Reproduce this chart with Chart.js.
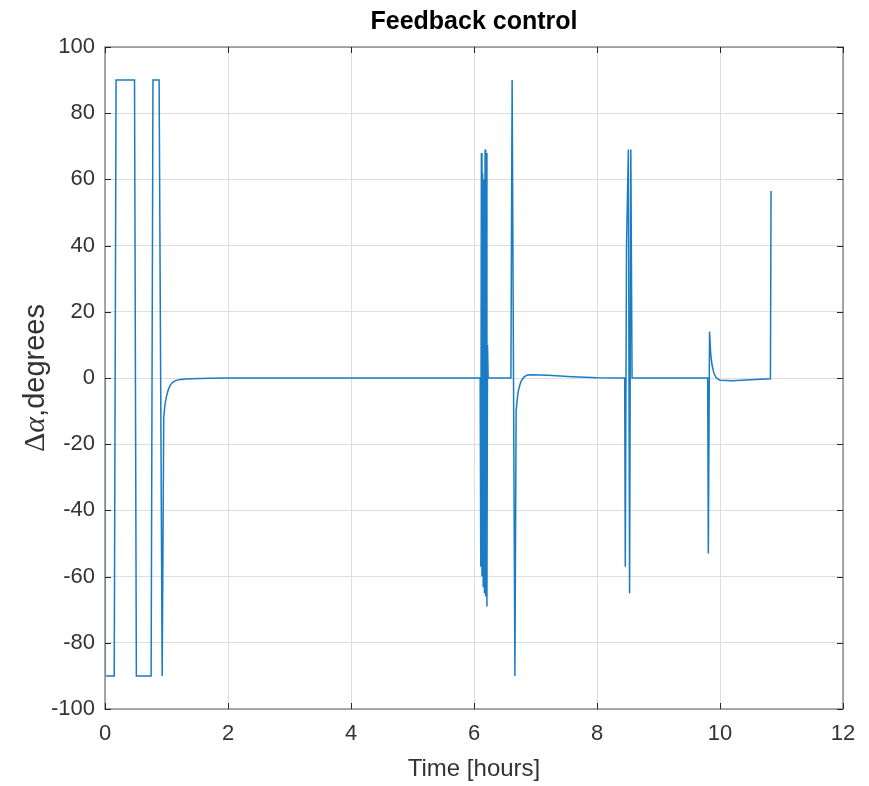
<!DOCTYPE html>
<html>
<head>
<meta charset="utf-8">
<title>Feedback control</title>
<script src="https://cdn.jsdelivr.net/npm/chart.js@4.4.1/dist/chart.umd.min.js"></script>
<style>
  html, body { margin: 0; padding: 0; background: #fff; }
  canvas { display: block; }
</style>
</head>
<body>
<canvas id="fbChart" width="869" height="786"></canvas>
<script>
const xTicks = [0, 2, 4, 6, 8, 10, 12];
const yTicks = [-100, -80, -60, -40, -20, 0, 20, 40, 60, 80, 100];

// time in hours
const timeHours = [
  0, 0.005, 0.15, 0.18, 0.48, 0.51, 0.75, 0.78, 0.88, 0.93,
  0.955, 0.975, 1.0, 1.03, 1.06, 1.1, 1.15, 1.2, 1.3, 1.4, 1.7, 2.0,
  6.10, 6.11, 6.12, 6.13, 6.14, 6.15, 6.16, 6.17, 6.18, 6.19, 6.20, 6.21, 6.22, 6.23,
  6.60, 6.62, 6.665, 6.685, 6.70, 6.72, 6.75, 6.78, 6.82, 6.87, 6.95, 7.05, 7.2, 7.6, 8.0,
  8.45, 8.46, 8.48, 8.51, 8.53, 8.55, 8.57,
  9.80, 9.81, 9.83, 9.85, 9.87, 9.90, 9.94, 10.0, 10.2, 10.5, 10.82, 10.83
];
// delta alpha in degrees
const deltaAlpha = [
  0, -90, -90, 90, 90, -90, -90, 90, 90, -90,
  -12, -8, -5.5, -3.5, -2.2, -1.3, -0.8, -0.5, -0.3, -0.2, -0.1, 0,
  0, -57, 68, -60, 62, -63, 60, -65, 69, -66, 68, -69, 10, 0,
  0, 90, -90, -10, -7, -4, -1.8, -0.5, 0.4, 0.9, 1, 0.9, 0.8, 0.4, 0.1,
  0, -57, 40, 69, -65, 69, 0,
  0, -53, 14, 7, 4, 1.5, 0, -0.7, -0.8, -0.5, -0.2, 56.5
];

const points = timeHours.map((t, i) => ({ x: t, y: deltaAlpha[i] }));

const textColor = '#333333';
const boxColor = '#8c8c8c';
const gridColor = '#dedede';

// box, inward ticks, title and axis labels drawn the MATLAB way
const decorPlugin = {
  id: 'decor',
  afterDraw(chart) {
    const { ctx, chartArea: a, scales } = chart;
    ctx.save();
    ctx.strokeStyle = boxColor;
    ctx.lineWidth = 1.5;
    ctx.strokeRect(a.left, a.top, a.right - a.left, a.bottom - a.top);

    ctx.strokeStyle = '#262626';
    ctx.lineWidth = 1;
    const tl = 6;
    xTicks.forEach((v) => {
      const px = Math.round(scales.x.getPixelForValue(v)) + 0.5;
      ctx.beginPath();
      ctx.moveTo(px, a.bottom); ctx.lineTo(px, a.bottom - tl);
      ctx.moveTo(px, a.top); ctx.lineTo(px, a.top + tl);
      ctx.stroke();
    });
    yTicks.forEach((v) => {
      const py = Math.round(scales.y.getPixelForValue(v)) + 0.5;
      ctx.beginPath();
      ctx.moveTo(a.left, py); ctx.lineTo(a.left + tl, py);
      ctx.moveTo(a.right, py); ctx.lineTo(a.right - tl, py);
      ctx.stroke();
    });

    const cx = (a.left + a.right) / 2;
    ctx.fillStyle = '#000';
    ctx.textAlign = 'center';
    ctx.textBaseline = 'alphabetic';
    ctx.font = 'bold 25px "Liberation Sans", Arial, sans-serif';
    ctx.fillText('Feedback control', cx, 29);

    ctx.fillStyle = textColor;
    ctx.font = '24px "Liberation Sans", Arial, sans-serif';
    ctx.fillText('Time [hours]', cx, 776);

    // y label: Δα,degrees
    const parts = [
      { s: 'Δ', f: '30px "Liberation Serif", "DejaVu Serif", serif' },
      { s: 'α', f: 'italic 30px "Liberation Serif", "DejaVu Serif", serif' },
      { s: ',degrees', f: '29px "Liberation Sans", Arial, sans-serif' }
    ];
    let total = 0;
    parts.forEach((p) => { ctx.font = p.f; p.w = ctx.measureText(p.s).width; total += p.w; });
    const cy = (a.top + a.bottom) / 2;
    ctx.translate(44, cy);
    ctx.rotate(-Math.PI / 2);
    ctx.textAlign = 'left';
    let xx = -total / 2;
    parts.forEach((p) => { ctx.font = p.f; ctx.fillText(p.s, xx, 0); xx += p.w; });
    ctx.restore();
  }
};

new Chart(document.getElementById('fbChart'), {
  type: 'line',
  data: {
    datasets: [{
      label: 'Feedback control',
      data: points,
      borderColor: '#1a7cc4',
      borderWidth: 1.5,
      pointRadius: 0,
      fill: false,
      tension: 0
    }]
  },
  options: {
    responsive: false,
    animation: false,
    devicePixelRatio: 1,
    layout: { padding: { left: 0, right: 26, top: 47, bottom: 0 } },
    plugins: {
      legend: { display: false },
      title: { display: false },
      tooltip: { enabled: false }
    },
    scales: {
      x: {
        type: 'linear',
        min: 0,
        max: 12,
        afterFit: (s) => { s.height = 77; },
        afterBuildTicks: (s) => { s.ticks = xTicks.map((v) => ({ value: v })); },
        grid: { color: gridColor, drawTicks: false },
        border: { display: false },
        ticks: {
          padding: 12,
          color: textColor,
          font: { family: '"Liberation Sans", Arial, sans-serif', size: 22 }
        }
      },
      y: {
        type: 'linear',
        min: -100,
        max: 100,
        afterFit: (s) => { s.width = 105; },
        afterBuildTicks: (s) => { s.ticks = yTicks.map((v) => ({ value: v })); },
        grid: { color: gridColor, drawTicks: false },
        border: { display: false },
        ticks: {
          padding: 10,
          color: textColor,
          font: { family: '"Liberation Sans", Arial, sans-serif', size: 22 }
        }
      }
    }
  },
  plugins: [decorPlugin]
});
</script>
</body>
</html>
